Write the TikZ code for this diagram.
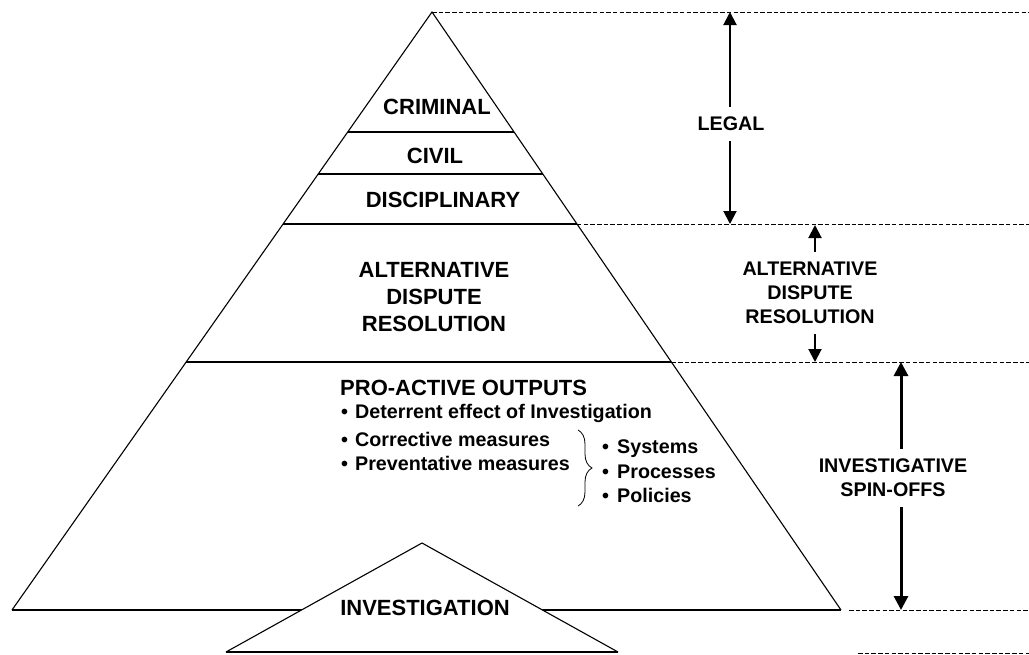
\documentclass[tikz,border=0pt]{standalone}
\usepackage{fontspec}
\setmainfont{Liberation Sans}
\usetikzlibrary{arrows.meta,calc,decorations.pathreplacing}

\begin{document}
\begin{tikzpicture}[x=1pt,y=-1pt,
  lvl/.style={font=\fontsize{22}{27}\selectfont\bfseries,align=center},
  side/.style={font=\fontsize{19.7}{24}\selectfont\bfseries,align=center,inner xsep=0pt,inner ysep=10pt},
  itm/.style={font=\fontsize{19.7}{24}\selectfont\bfseries,anchor=west,inner sep=0pt},
  guide/.style={dash pattern=on 4.5pt off 2.2pt,line width=1pt},
  edge/.style={line width=1.1pt},
  band/.style={line width=1.6pt},
  span/.style={line width=2pt,-{Triangle[length=13pt,width=13pt]}},
  bigspan/.style={line width=3pt,-{Triangle[length=14pt,width=14pt]}},
  ]
\useasboundingbox (0,0) rectangle (1029,654);

% pyramid
\coordinate (top) at (432,12);
\coordinate (bl) at (12,610);
\coordinate (br) at (841,610);
\coordinate (east) at (1029,0);

\draw[edge] (bl) -- (top) -- (br);
\draw[line width=2pt] (bl) -- (br);

\foreach \n/\y in {a/132,b/174,c/224,d/362} {
  \pgfmathsetmacro\t{(\y-12)/598}
  \draw[band] ($(top)!\t!(bl)$) coordinate (l\n) -- ($(top)!\t!(br)$) coordinate (r\n);
}

% dashed guides
\coordinate (g4) at (849,610);
\coordinate (g5) at (858,653);
\draw[guide] (top) -- (top -| east);
\draw[guide] (rc) -- (rc -| east);
\draw[guide] (rd) -- (rd -| east);
\draw[guide] (g4) -- (g4 -| east);
\draw[guide] (g5) -- (g5 -| east);

% levels
\node[lvl] (crim) at (437,107) {CRIMINAL};
\node[lvl] (civ) at (435,156) {CIVIL};
\node[lvl] (disc) at (443,200) {DISCIPLINARY};
\node[lvl] (adr) at (434,297) {ALTERNATIVE\\DISPUTE\\RESOLUTION};

% pro-active outputs
\node[itm,font=\fontsize{22}{26}\selectfont\bfseries] (pro) at (340,388) {PRO-ACTIVE OUTPUTS};
\foreach \n/\y/\t in {i1/413/Deterrent effect of Investigation,
                      i2/439/Corrective measures,
                      i3/463/Preventative measures} {
  \node[itm] (\n) at (341,\y) {\makebox[14pt][l]{\textbullet}\t};
}
\draw[decorate,decoration={brace,amplitude=14pt},line width=0.8pt] (578,430) -- (578,506);
\foreach \n/\y/\t in {s1/449/Systems,s2/472/Processes,s3/495/Policies} {
  \node[itm] (\n) at (602,\y) {\makebox[15pt][l]{\textbullet}\t};
}

% investigation
\coordinate (il) at (226,652);
\coordinate (it) at (422,543);
\coordinate (ir) at (618,652);
\draw[edge,fill=white] (il) -- (it) -- (ir);
\draw[band] (il) -- (ir);
\node[lvl] (inv) at (425,608) {INVESTIGATION};

% side labels
\node[side] (legal) at (731,124) {LEGAL};
\coordinate (la) at (730,12);
\coordinate (lb) at (730,224);
\draw[span] (la |- legal.north) -- (la);
\draw[span] (lb |- legal.south) -- (lb);

\node[side] (adrr) at (810,293) {ALTERNATIVE\\DISPUTE\\RESOLUTION};
\coordinate (aa) at (815,225);
\coordinate (ab) at (815,362);
\draw[span] (aa |- adrr.north) -- (aa);
\draw[span] (ab |- adrr.south) -- (ab);

\node[side] (spin) at (893,478) {INVESTIGATIVE\\SPIN-OFFS};
\coordinate (sa) at (901,362);
\coordinate (sb) at (901,610);
\draw[bigspan] (sa |- spin.north) -- (sa);
\draw[bigspan] (sb |- spin.south) -- (sb);
\end{tikzpicture}
\end{document}
